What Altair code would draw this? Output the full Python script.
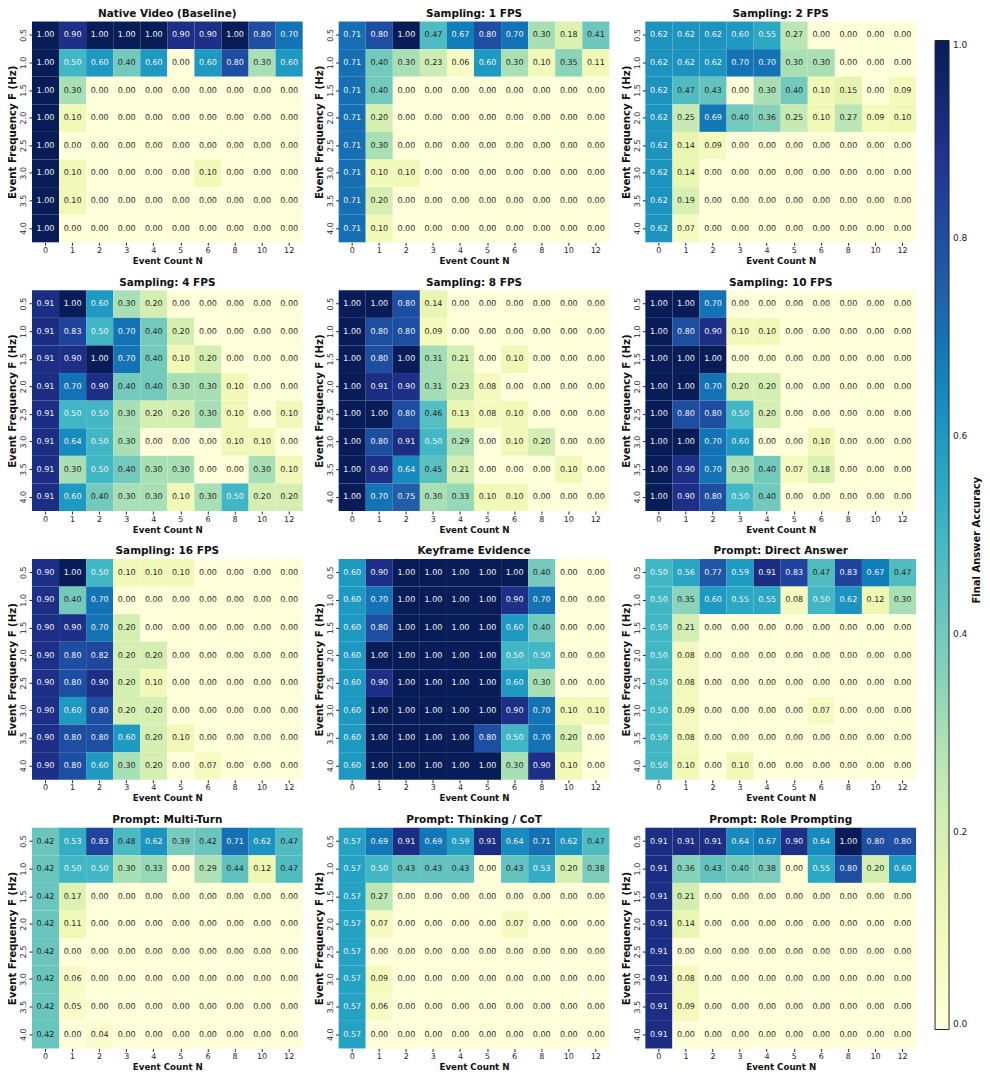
import altair as alt
import pandas as pd

N_LABELS = ["0", "1", "2", "3", "4", "5", "6", "8", "10", "12"]
F_LABELS = ["0.5", "1.0", "1.5", "2.0", "2.5", "3.0", "3.5", "4.0"]

native_video = [
    [1.00, 0.90, 1.00, 1.00, 1.00, 0.90, 0.90, 1.00, 0.80, 0.70],
    [1.00, 0.50, 0.60, 0.40, 0.60, 0.00, 0.60, 0.80, 0.30, 0.60],
    [1.00, 0.30, 0.00, 0.00, 0.00, 0.00, 0.00, 0.00, 0.00, 0.00],
    [1.00, 0.10, 0.00, 0.00, 0.00, 0.00, 0.00, 0.00, 0.00, 0.00],
    [1.00, 0.00, 0.00, 0.00, 0.00, 0.00, 0.00, 0.00, 0.00, 0.00],
    [1.00, 0.10, 0.00, 0.00, 0.00, 0.00, 0.10, 0.00, 0.00, 0.00],
    [1.00, 0.10, 0.00, 0.00, 0.00, 0.00, 0.00, 0.00, 0.00, 0.00],
    [1.00, 0.00, 0.00, 0.00, 0.00, 0.00, 0.00, 0.00, 0.00, 0.00],
]
sampling_1fps = [
    [0.71, 0.80, 1.00, 0.47, 0.67, 0.80, 0.70, 0.30, 0.18, 0.41],
    [0.71, 0.40, 0.30, 0.23, 0.06, 0.60, 0.30, 0.10, 0.35, 0.11],
    [0.71, 0.40, 0.00, 0.00, 0.00, 0.00, 0.00, 0.00, 0.00, 0.00],
    [0.71, 0.20, 0.00, 0.00, 0.00, 0.00, 0.00, 0.00, 0.00, 0.00],
    [0.71, 0.30, 0.00, 0.00, 0.00, 0.00, 0.00, 0.00, 0.00, 0.00],
    [0.71, 0.10, 0.10, 0.00, 0.00, 0.00, 0.00, 0.00, 0.00, 0.00],
    [0.71, 0.20, 0.00, 0.00, 0.00, 0.00, 0.00, 0.00, 0.00, 0.00],
    [0.71, 0.10, 0.00, 0.00, 0.00, 0.00, 0.00, 0.00, 0.00, 0.00],
]
sampling_2fps = [
    [0.62, 0.62, 0.62, 0.60, 0.55, 0.27, 0.00, 0.00, 0.00, 0.00],
    [0.62, 0.62, 0.62, 0.70, 0.70, 0.30, 0.30, 0.00, 0.00, 0.00],
    [0.62, 0.47, 0.43, 0.00, 0.30, 0.40, 0.10, 0.15, 0.00, 0.09],
    [0.62, 0.25, 0.69, 0.40, 0.36, 0.25, 0.10, 0.27, 0.09, 0.10],
    [0.62, 0.14, 0.09, 0.00, 0.00, 0.00, 0.00, 0.00, 0.00, 0.00],
    [0.62, 0.14, 0.00, 0.00, 0.00, 0.00, 0.00, 0.00, 0.00, 0.00],
    [0.62, 0.19, 0.00, 0.00, 0.00, 0.00, 0.00, 0.00, 0.00, 0.00],
    [0.62, 0.07, 0.00, 0.00, 0.00, 0.00, 0.00, 0.00, 0.00, 0.00],
]
sampling_4fps = [
    [0.91, 1.00, 0.60, 0.30, 0.20, 0.00, 0.00, 0.00, 0.00, 0.00],
    [0.91, 0.83, 0.50, 0.70, 0.40, 0.20, 0.00, 0.00, 0.00, 0.00],
    [0.91, 0.90, 1.00, 0.70, 0.40, 0.10, 0.20, 0.00, 0.00, 0.00],
    [0.91, 0.70, 0.90, 0.40, 0.40, 0.30, 0.30, 0.10, 0.00, 0.00],
    [0.91, 0.50, 0.50, 0.30, 0.20, 0.20, 0.30, 0.10, 0.00, 0.10],
    [0.91, 0.64, 0.50, 0.30, 0.00, 0.00, 0.00, 0.10, 0.10, 0.00],
    [0.91, 0.30, 0.50, 0.40, 0.30, 0.30, 0.00, 0.00, 0.30, 0.10],
    [0.91, 0.60, 0.40, 0.30, 0.30, 0.10, 0.30, 0.50, 0.20, 0.20],
]
sampling_8fps = [
    [1.00, 1.00, 0.80, 0.14, 0.00, 0.00, 0.00, 0.00, 0.00, 0.00],
    [1.00, 0.80, 0.80, 0.09, 0.00, 0.00, 0.00, 0.00, 0.00, 0.00],
    [1.00, 0.80, 1.00, 0.31, 0.21, 0.00, 0.10, 0.00, 0.00, 0.00],
    [1.00, 0.91, 0.90, 0.31, 0.23, 0.08, 0.00, 0.00, 0.00, 0.00],
    [1.00, 1.00, 0.80, 0.46, 0.13, 0.08, 0.10, 0.00, 0.00, 0.00],
    [1.00, 0.80, 0.91, 0.50, 0.29, 0.00, 0.10, 0.20, 0.00, 0.00],
    [1.00, 0.90, 0.64, 0.45, 0.21, 0.00, 0.00, 0.00, 0.10, 0.00],
    [1.00, 0.70, 0.75, 0.30, 0.33, 0.10, 0.10, 0.00, 0.00, 0.00],
]
sampling_10fps = [
    [1.00, 1.00, 0.70, 0.00, 0.00, 0.00, 0.00, 0.00, 0.00, 0.00],
    [1.00, 0.80, 0.90, 0.10, 0.10, 0.00, 0.00, 0.00, 0.00, 0.00],
    [1.00, 1.00, 1.00, 0.00, 0.00, 0.00, 0.00, 0.00, 0.00, 0.00],
    [1.00, 1.00, 0.70, 0.20, 0.20, 0.00, 0.00, 0.00, 0.00, 0.00],
    [1.00, 0.80, 0.80, 0.50, 0.20, 0.00, 0.00, 0.00, 0.00, 0.00],
    [1.00, 1.00, 0.70, 0.60, 0.00, 0.00, 0.10, 0.00, 0.00, 0.00],
    [1.00, 0.90, 0.70, 0.30, 0.40, 0.07, 0.18, 0.00, 0.00, 0.00],
    [1.00, 0.90, 0.80, 0.50, 0.40, 0.00, 0.00, 0.00, 0.00, 0.00],
]
sampling_16fps = [
    [0.90, 1.00, 0.50, 0.10, 0.10, 0.10, 0.00, 0.00, 0.00, 0.00],
    [0.90, 0.40, 0.70, 0.00, 0.00, 0.00, 0.00, 0.00, 0.00, 0.00],
    [0.90, 0.90, 0.70, 0.20, 0.00, 0.00, 0.00, 0.00, 0.00, 0.00],
    [0.90, 0.80, 0.82, 0.20, 0.20, 0.00, 0.00, 0.00, 0.00, 0.00],
    [0.90, 0.80, 0.90, 0.20, 0.10, 0.00, 0.00, 0.00, 0.00, 0.00],
    [0.90, 0.60, 0.80, 0.20, 0.20, 0.00, 0.00, 0.00, 0.00, 0.00],
    [0.90, 0.80, 0.80, 0.60, 0.20, 0.10, 0.00, 0.00, 0.00, 0.00],
    [0.90, 0.80, 0.60, 0.30, 0.20, 0.00, 0.07, 0.00, 0.00, 0.00],
]
keyframe_evidence = [
    [0.60, 0.90, 1.00, 1.00, 1.00, 1.00, 1.00, 0.40, 0.00, 0.00],
    [0.60, 0.70, 1.00, 1.00, 1.00, 1.00, 0.90, 0.70, 0.00, 0.00],
    [0.60, 0.80, 1.00, 1.00, 1.00, 1.00, 0.60, 0.40, 0.00, 0.00],
    [0.60, 1.00, 1.00, 1.00, 1.00, 1.00, 0.50, 0.50, 0.00, 0.00],
    [0.60, 0.90, 1.00, 1.00, 1.00, 1.00, 0.60, 0.30, 0.00, 0.00],
    [0.60, 1.00, 1.00, 1.00, 1.00, 1.00, 0.90, 0.70, 0.10, 0.10],
    [0.60, 1.00, 1.00, 1.00, 1.00, 0.80, 0.50, 0.70, 0.20, 0.00],
    [0.60, 1.00, 1.00, 1.00, 1.00, 1.00, 0.30, 0.90, 0.10, 0.00],
]
prompt_direct = [
    [0.50, 0.56, 0.77, 0.59, 0.91, 0.83, 0.47, 0.83, 0.67, 0.47],
    [0.50, 0.35, 0.60, 0.55, 0.55, 0.08, 0.50, 0.62, 0.12, 0.30],
    [0.50, 0.21, 0.00, 0.00, 0.00, 0.00, 0.00, 0.00, 0.00, 0.00],
    [0.50, 0.08, 0.00, 0.00, 0.00, 0.00, 0.00, 0.00, 0.00, 0.00],
    [0.50, 0.08, 0.00, 0.00, 0.00, 0.00, 0.00, 0.00, 0.00, 0.00],
    [0.50, 0.09, 0.00, 0.00, 0.00, 0.00, 0.07, 0.00, 0.00, 0.00],
    [0.50, 0.08, 0.00, 0.00, 0.00, 0.00, 0.00, 0.00, 0.00, 0.00],
    [0.50, 0.10, 0.00, 0.10, 0.00, 0.00, 0.00, 0.00, 0.00, 0.00],
]
prompt_multiturn = [
    [0.42, 0.53, 0.83, 0.48, 0.62, 0.39, 0.42, 0.71, 0.62, 0.47],
    [0.42, 0.50, 0.50, 0.30, 0.33, 0.00, 0.29, 0.44, 0.12, 0.47],
    [0.42, 0.17, 0.00, 0.00, 0.00, 0.00, 0.00, 0.00, 0.00, 0.00],
    [0.42, 0.11, 0.00, 0.00, 0.00, 0.00, 0.00, 0.00, 0.00, 0.00],
    [0.42, 0.00, 0.00, 0.00, 0.00, 0.00, 0.00, 0.00, 0.00, 0.00],
    [0.42, 0.06, 0.00, 0.00, 0.00, 0.00, 0.00, 0.00, 0.00, 0.00],
    [0.42, 0.05, 0.00, 0.00, 0.00, 0.00, 0.00, 0.00, 0.00, 0.00],
    [0.42, 0.00, 0.04, 0.00, 0.00, 0.00, 0.00, 0.00, 0.00, 0.00],
]
prompt_cot = [
    [0.57, 0.69, 0.91, 0.69, 0.59, 0.91, 0.64, 0.71, 0.62, 0.47],
    [0.57, 0.50, 0.43, 0.43, 0.43, 0.00, 0.43, 0.53, 0.20, 0.38],
    [0.57, 0.27, 0.00, 0.00, 0.00, 0.00, 0.00, 0.00, 0.00, 0.00],
    [0.57, 0.07, 0.00, 0.00, 0.00, 0.00, 0.07, 0.00, 0.00, 0.00],
    [0.57, 0.00, 0.00, 0.00, 0.00, 0.00, 0.00, 0.00, 0.00, 0.00],
    [0.57, 0.09, 0.00, 0.00, 0.00, 0.00, 0.00, 0.00, 0.00, 0.00],
    [0.57, 0.06, 0.00, 0.00, 0.00, 0.00, 0.00, 0.00, 0.00, 0.00],
    [0.57, 0.00, 0.00, 0.00, 0.00, 0.00, 0.00, 0.00, 0.00, 0.00],
]
prompt_role = [
    [0.91, 0.91, 0.91, 0.64, 0.67, 0.90, 0.64, 1.00, 0.80, 0.80],
    [0.91, 0.36, 0.43, 0.40, 0.38, 0.00, 0.55, 0.80, 0.20, 0.60],
    [0.91, 0.21, 0.00, 0.00, 0.00, 0.00, 0.00, 0.00, 0.00, 0.00],
    [0.91, 0.14, 0.00, 0.00, 0.00, 0.00, 0.00, 0.00, 0.00, 0.00],
    [0.91, 0.00, 0.00, 0.00, 0.00, 0.00, 0.00, 0.00, 0.00, 0.00],
    [0.91, 0.08, 0.00, 0.00, 0.00, 0.00, 0.00, 0.00, 0.00, 0.00],
    [0.91, 0.09, 0.00, 0.00, 0.00, 0.00, 0.00, 0.00, 0.00, 0.00],
    [0.91, 0.00, 0.00, 0.00, 0.00, 0.00, 0.00, 0.00, 0.00, 0.00],
]

PANEL_TITLES = [
    "Native Video (Baseline)", "Sampling: 1 FPS", "Sampling: 2 FPS",
    "Sampling: 4 FPS", "Sampling: 8 FPS", "Sampling: 10 FPS",
    "Sampling: 16 FPS", "Keyframe Evidence", "Prompt: Direct Answer",
    "Prompt: Multi-Turn", "Prompt: Thinking / CoT", "Prompt: Role Prompting",
]
PANEL_GRIDS = [
    native_video, sampling_1fps, sampling_2fps,
    sampling_4fps, sampling_8fps, sampling_10fps,
    sampling_16fps, keyframe_evidence, prompt_direct,
    prompt_multiturn, prompt_cot, prompt_role,
]

YLGNBU = ["#ffffd9", "#edf8b1", "#c7e9b4", "#7fcdbb", "#41b6c4",
          "#1d91c0", "#225ea8", "#253494", "#081d58"]
STOPS = [i / 8 for i in range(9)]
FONT = "DejaVu Sans"

LEGEND = alt.Legend(
    orient="none", legendX=904, legendY=19, direction="vertical",
    gradientLength=990, gradientThickness=14,
    gradientStrokeColor="#222222", gradientStrokeWidth=1,
    title=None,
    values=[0.0, 0.2, 0.4, 0.6, 0.8, 1.0], format=".1f",
    labelFont=FONT, labelFontSize=9, labelColor="#222222", labelOffset=4,
)


def make_panel(title, grid):
    rows = []
    for fi, f in enumerate(F_LABELS):
        for ni, n in enumerate(N_LABELS):
            rows.append({"F": f, "N": n, "acc": grid[fi][ni]})
    df = pd.DataFrame(rows)
    x = alt.X("N:O", sort=N_LABELS, title="Event Count N",
              axis=alt.Axis(labelAngle=0, titleFontSize=8.7))
    y = alt.Y("F:O", sort=F_LABELS, title="Event Frequency F (Hz)",
              axis=alt.Axis(labelAngle=270, labelAlign="center", labelBaseline="bottom",
                            titleFontSize=10.2))
    base = alt.Chart(df)
    rect = base.mark_rect().encode(
        x=x, y=y,
        color=alt.Color("acc:Q", scale=alt.Scale(domain=STOPS, range=YLGNBU),
                        legend=LEGEND),
    )
    text = base.mark_text(font=FONT, fontSize=8).encode(
        x=x, y=y,
        text=alt.Text("acc:Q", format=".2f"),
        color=alt.condition("datum.acc >= 0.5", alt.value("#f4f4f4"), alt.value("#262626")),
    )
    return alt.layer(rect, text).properties(width=271, height=221, title=title)


panels = [make_panel(t, g) for t, g in zip(PANEL_TITLES, PANEL_GRIDS)]
rows = [alt.hconcat(*panels[i * 3:(i + 1) * 3], spacing=12) for i in range(4)]
chart = alt.vconcat(
    *rows, spacing=12,
    title=alt.TitleParams(
        text="Final Answer Accuracy", orient="right", angle=270, anchor="middle",
        font=FONT, fontSize=10, fontWeight="bold", color="#111111", offset=-6,
    ),
).properties(
    padding={"left": 0, "top": 0, "right": 0, "bottom": 0}
).configure_view(stroke=None).configure_axis(
    labelFont=FONT, labelFontSize=8, labelColor="#262626",
    titleFont=FONT, titleFontSize=9, titleFontWeight="bold", titleColor="#111111",
    domain=False, grid=False, ticks=True, tickSize=3, tickColor="#262626",
    labelPadding=1, titlePadding=2,
).configure_title(
    font=FONT, fontSize=10.5, fontWeight="bold", color="#111111", offset=2, anchor="middle",
)

chart.save("out.html", embed_options={"renderer": "svg", "actions": False})
